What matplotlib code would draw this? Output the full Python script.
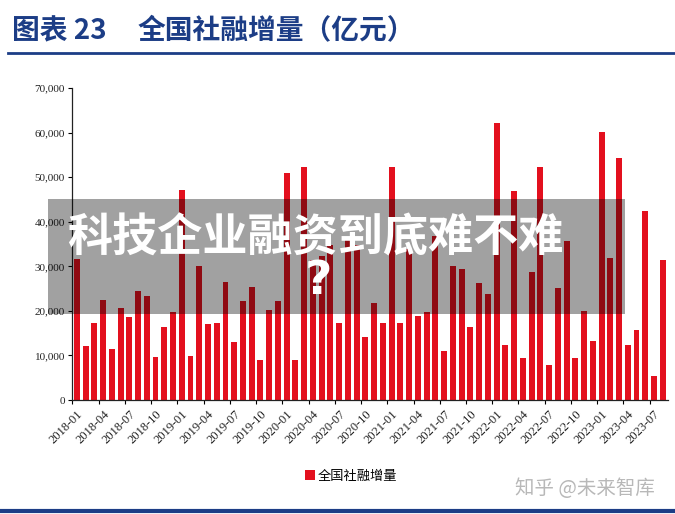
import matplotlib.pyplot as plt
from matplotlib.patches import Rectangle
from matplotlib.lines import Line2D

plt.rcParams['font.family'] = ['Noto Sans CJK SC', 'DejaVu Sans']

# monthly labels 2018-01 .. 2023-08
months = [f'{y}-{m:02d}' for y in range(2018, 2024) for m in range(1, 13)][:68]

# 全国社融增量（亿元）
social_financing = [
    31600, 12200, 17300, 22500, 11400, 20600, 18600, 24400, 23300, 9700, 16300, 19700,
    47100, 9900, 30000, 17100, 17300, 26500, 13100, 22100, 25400, 8900, 20300, 22300,
    51000, 8900, 52200, 31400, 32200, 34700, 17200, 35800, 34800, 14100, 21700, 17300,
    52200, 17300, 33800, 18800, 19800, 36700, 11000, 30100, 29300, 16300, 26200, 23800,
    62100, 12300, 46900, 9500, 28700, 52200, 7900, 25100, 35700, 9400, 20000, 13200,
    60200, 31800, 54200, 12300, 15700, 42500, 5400, 31300,
]

yticks = [0, 10000, 20000, 30000, 40000, 50000, 60000, 70000]

title_blue = '#1c3d86'
bar_red = '#e3101e'

fig = plt.figure(figsize=(6.75, 5.14), dpi=100)
fig.patch.set_facecolor('white')

ax = fig.add_axes([72 / 675, 1 - 400 / 514, 596 / 675, 312 / 514])
x = list(range(len(months)))
bars = ax.bar(x, social_financing, width=0.68, color=bar_red, label='全国社融增量')

ax.set_ylim(0, 70000)
ax.set_xlim(-0.55, len(months) - 0.4)
ax.set_yticks(yticks)
ax.set_yticklabels([f'{v:,}' for v in yticks], fontfamily='Liberation Serif', fontsize=8, color='#222222')
ax.tick_params(axis='y', direction='out', length=3, width=0.8, pad=2)

# labels every 3 months, tick marks on category boundaries
ax.set_xticks(x[::3])
ax.set_xticklabels(months[::3], rotation=45, ha='right', rotation_mode='anchor',
                   fontfamily='Liberation Serif', fontsize=9, color='#222222')
ax.tick_params(axis='x', which='major', length=0, pad=6)
ax.set_xticks([i - 0.5 for i in x[::3]], minor=True)
ax.tick_params(axis='x', which='minor', direction='out', length=3, width=0.8)

for side in ['top', 'right']:
    ax.spines[side].set_visible(False)
for side in ['left', 'bottom']:
    ax.spines[side].set_linewidth(0.9)
    ax.spines[side].set_color('#222222')

# title block
fig.text(12 / 675, 1 - 31 / 514, '图表 23', fontsize=20, fontweight='bold', color=title_blue, va='center')
fig.text(138 / 675, 1 - 31 / 514, '全国社融增量（亿元）', fontsize=20, fontweight='bold', color=title_blue, va='center')
fig.add_artist(Line2D([8 / 675, 1], [1 - 53 / 514] * 2, color=title_blue, lw=2))
fig.add_artist(Line2D([0, 1], [1 - 511 / 514] * 2, color=title_blue, lw=3))

fig.legend(handles=[bars], loc='center', bbox_to_anchor=(351 / 675, 1 - 476 / 514), frameon=False,
           fontsize=9.5, handlelength=0.7, handleheight=0.7, handletextpad=0.2)

fig.text(585 / 675, 1 - 488 / 514, '知乎 @未来智库', fontsize=14, color='#b8b8b8', ha='center', va='center')

# overlay band with headline
fig.add_artist(Rectangle((48 / 675, 1 - 314 / 514), 577 / 675, 115 / 514,
                         transform=fig.transFigure, facecolor='black', alpha=0.37,
                         edgecolor='none', zorder=5))
fig.text(315 / 675, 1 - 238 / 514, '科技企业融资到底难不难', fontsize=32.5, fontweight='heavy',
         color='white', ha='center', va='center', zorder=6)
fig.text(318 / 675, 1 - 281 / 514, '?', fontsize=34, fontweight='bold', family='DejaVu Sans',
         color='white', ha='center', va='center', zorder=6)

fig.savefig('out.png', dpi=100)
